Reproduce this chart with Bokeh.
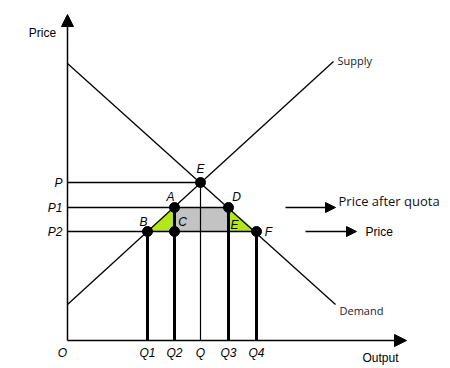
from bokeh.plotting import figure
from bokeh.models import Range1d, Arrow, NormalHead, ColumnDataSource
from bokeh.core.properties import value
from bokeh.embed import file_html
from bokeh.resources import INLINE

# Economic values (output units on x, price units on y)
q_labels = ["Q1", "Q2", "Q", "Q3", "Q4"]
q_values = [80, 107, 133, 161, 189]
p_labels = ["P", "P1", "P2"]
p_values = [158, 133, 109]
demand_x = [0, 268]
demand_y = [277, 36]
supply_x = [0, 266]
supply_y = [36, 279]
point_names = ["E", "A", "D", "B", "C", "F"]
point_x = [133, 107, 161, 80, 107, 189]
point_y = [158, 133, 133, 109, 109, 109]

Q1, Q2, Q, Q3, Q4 = q_values
P, P1, P2 = p_values

p = figure(width=450, height=368, x_range=Range1d(-67, 383), y_range=Range1d(-28, 340),
           output_backend="svg", toolbar_location=None, min_border=0,
           x_axis_location=None, y_axis_location=None, outline_line_color=None)
p.xgrid.visible = False
p.ygrid.visible = False
p.background_fill_color = "white"

# shaded areas
p.quad(left=[Q2], right=[Q3], bottom=[P2], top=[P1], fill_color="#c3c3c3", line_color=None)
p.patches(xs=[[Q1, Q2, Q2], [Q3, Q4, Q3]], ys=[[P2, P1, P2], [P1, P2, P2]],
          fill_color="#b5e61d", line_color=None)

# curves
p.line(demand_x, demand_y, line_color="black", line_width=1.3)
p.line(supply_x, supply_y, line_color="black", line_width=1.3)

# horizontal price lines
p.segment(x0=[0, 0, 0], y0=[P, P1, P2], x1=[Q, Q3, Q4], y1=[P, P1, P2],
          line_color="black", line_width=1.3)
# vertical quantity lines
p.segment(x0=[Q1, Q2, Q3, Q4], y0=[P2, P1, P1, P2], x1=[Q1, Q2, Q3, Q4], y1=[0, 0, 0, 0],
          line_color="black", line_width=3)
p.segment(x0=[Q], y0=[P], x1=[Q], y1=[0], line_color="black", line_width=1.2)

# points
p.scatter(point_x, point_y, size=10, fill_color="black", line_color="black")


def head(sz):
    return NormalHead(size=sz, fill_color="black", line_color="black", line_width=1)


# axes as arrows
p.add_layout(Arrow(end=head(12), x_start=0, y_start=0, x_end=0, y_end=326, line_width=1.5))
p.add_layout(Arrow(end=head(12), x_start=0, y_start=0, x_end=339, y_end=0, line_width=1.5))

# side arrows
p.add_layout(Arrow(end=head(10), x_start=218, y_start=P1, x_end=268, y_end=P1, line_width=1.5))
p.add_layout(Arrow(end=head(10), x_start=238, y_start=P2, x_end=289, y_end=P2, line_width=1.5))

font = value("Liberation Sans")

# point labels (italic)
p.text(x=[133, 103, 169, 76, 115, 167, 201], y=[172, 144, 144, 119, 119, 116, 109],
       text=["E", "A", "D", "B", "C", "E", "F"], text_font=font, text_font_size="12px",
       text_font_style="italic", text_align="center", text_baseline="middle", text_color="black")

# price labels
p.text(x=[-5] * 3, y=p_values, text=p_labels, text_font=font, text_font_size="12px",
       text_font_style="italic", text_align="right", text_baseline="middle", text_color="black")

# quantity labels
p.text(x=[-5] + q_values, y=[-12] * 6, text=["O"] + q_labels, text_font=font,
       text_font_size="12px", text_font_style="italic", text_align="center",
       text_baseline="middle", text_color="black")

# axis titles
p.text(x=[-25], y=[308], text=["Price"], text_font=font, text_font_size="12px",
       text_align="center", text_baseline="middle", text_color="black")
p.text(x=[313], y=[-17], text=["Output"], text_font=font, text_font_size="12px",
       text_align="center", text_baseline="middle", text_color="black")
p.text(x=[298], y=[P2], text=["Price"], text_font=font, text_font_size="12px",
       text_align="left", text_baseline="middle", text_color="black")

# curve labels
p.text(x=[270], y=[280], text=["Supply"], text_font=value("Open Sans"), text_font_size="11px",
       text_align="left", text_baseline="middle", text_color="#1a1a2e")
p.text(x=[272], y=[30], text=["Demand"], text_font=value("Open Sans"), text_font_size="11px",
       text_align="left", text_baseline="middle", text_color="#1a1a2e")
p.text(x=[271], y=[140], text=["Price after quota"], text_font=value("Open Sans"),
       text_font_size="13px", text_align="left", text_baseline="middle", text_color="#111111")

open("out.html", "w").write(file_html(p, INLINE))
